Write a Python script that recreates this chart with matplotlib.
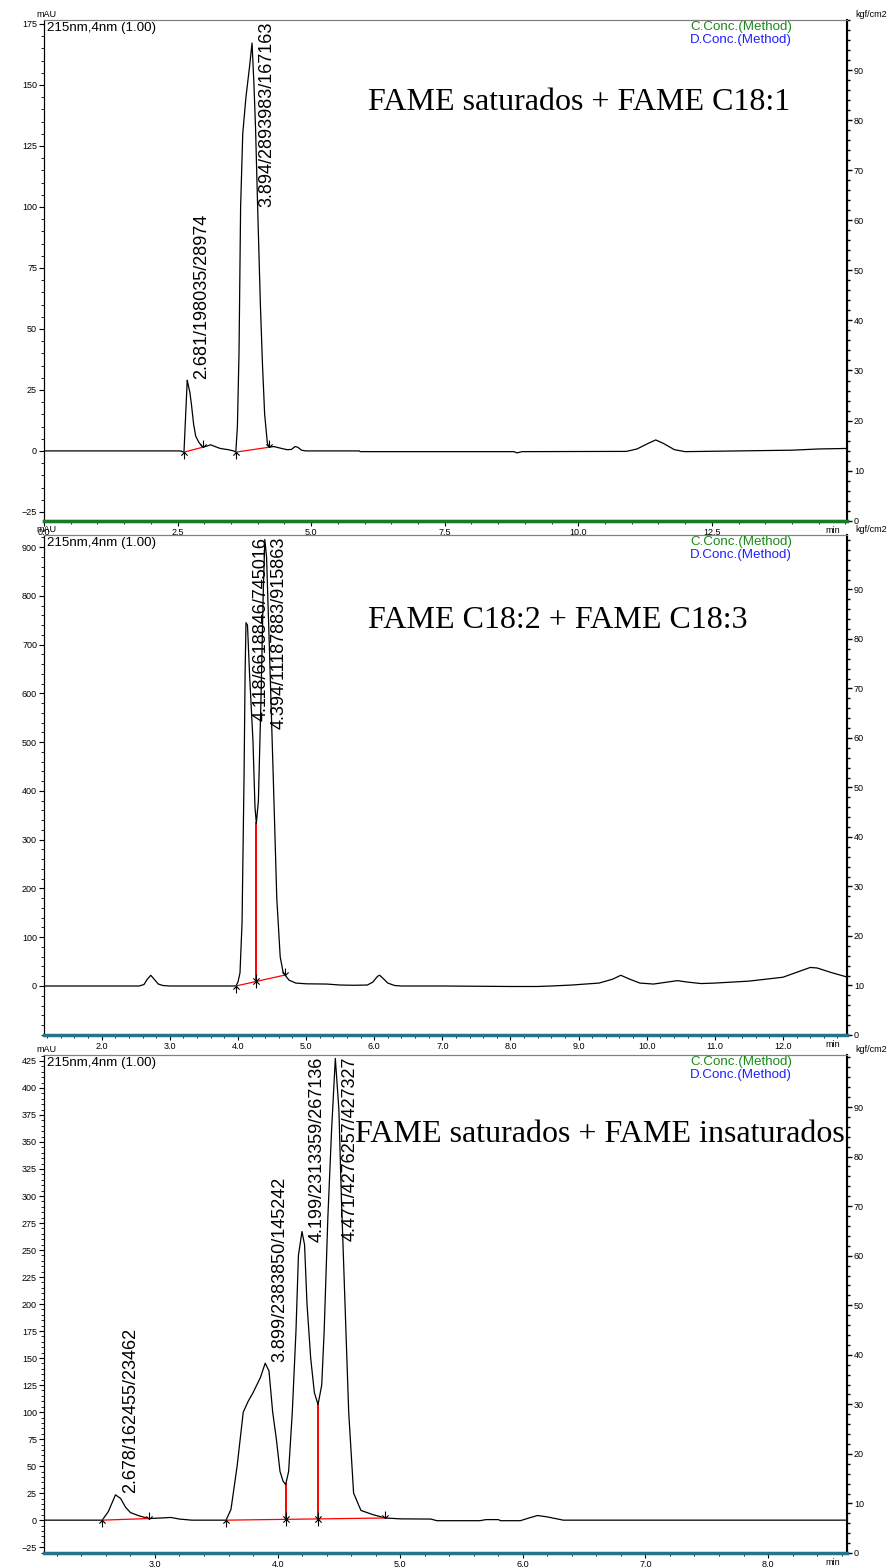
import numpy as np
import matplotlib.pyplot as plt
from matplotlib.path import Path
from matplotlib.ticker import MultipleLocator, FixedLocator, FormatStrFormatter

plt.rcParams['font.family'] = ['Liberation Sans', 'DejaVu Sans']

W, H, DPI = 895, 1568, 100

# ---- cromatograma 1 : FAME saturados + FAME C18:1
t1 = [0.0, 2.55, 2.62, 2.65, 2.70, 2.73, 2.76, 2.80, 2.84, 2.90, 2.97, 3.05, 3.12, 3.20,
      3.30, 3.45, 3.55, 3.59, 3.62, 3.65, 3.68, 3.72, 3.78, 3.85, 3.93, 3.96, 4.00, 4.05,
      4.09, 4.13, 4.18, 4.21, 4.30, 4.45, 4.55, 4.63, 4.70, 4.75, 4.82, 4.90, 5.90, 5.92,
      8.80, 8.85, 8.95, 10.90, 11.10, 11.30, 11.45, 11.60, 11.80, 12.00, 13.00, 14.00,
      14.50, 15.00]
s1 = [0.0, 0.0, -0.5, 14, 27, 24, 19, 11, 6, 3.5, 1.5, 2.0, 2.5, 1.8,
      1.0, 0.5, 0.0, -0.5, 10, 40, 100, 130, 145, 158, 150, 132, 99, 60,
      35, 15, 3.3, 1.5, 1.8, 1.0, 0.5, 0.6, 1.8, 1.5, 0.3, 0.0, 0.0, -0.3,
      -0.3, -0.8, -0.3, -0.2, 0.8, 3.0, 4.5, 3.0, 0.5, -0.3, 0.0, 0.3,
      0.8, 1.0]
pk1_rt = [2.681, 3.894]
pk1_area = [198035, 2893983]
pk1_height = [28974, 167163]
base1_t = [[2.62, 2.97], [3.59, 4.21]]
base1_s = [[-0.5, 1.5], [-0.5, 1.5]]
drop1_t = []
xt1 = [0.0, 2.5, 5.0, 7.5, 10.0, 12.5]
yt1 = [-25, 0, 25, 50, 75, 100, 125, 150, 175]

# ---- cromatograma 2 : FAME C18:2 + FAME C18:3
t2 = [1.15, 2.55, 2.62, 2.67, 2.72, 2.77, 2.83, 2.90, 3.00, 3.90, 3.97, 4.00, 4.03, 4.06,
      4.09, 4.105, 4.14, 4.17, 4.22, 4.25, 4.27, 4.30, 4.34, 4.37, 4.42, 4.46, 4.52, 4.57,
      4.62, 4.66, 4.69, 4.75, 4.85, 5.00, 5.30, 5.50, 5.70, 5.90, 5.98, 6.05, 6.08, 6.12,
      6.20, 6.30, 6.40, 7.00, 8.00, 8.40, 8.60, 8.90, 9.10, 9.30, 9.50, 9.62, 9.75, 9.90,
      10.10, 10.30, 10.45, 10.60, 10.80, 11.00, 11.50, 12.00, 12.20, 12.40, 12.50, 12.70,
      12.95]
s2 = [0, 0, 3, 14, 22, 14, 4, 1, 0, 0, 0, 8, 27, 129,
      437, 642, 740, 640, 504, 367, 334, 380, 600, 800, 880, 700, 420, 180,
      60, 30, 22.5, 12, 6, 4.5, 4.0, 2.0, 1.5, 2.0, 8, 20, 22, 17,
      6, 1, 0, 0, -1, -1, 0, 2, 4, 6, 14, 22, 14, 6,
      4, 8, 11, 8, 5, 6, 10, 18, 28, 38, 37, 28,
      18]
pk2_rt = [4.118, 4.394]
pk2_area = [6618846, 11187883]
pk2_height = [745016, 915863]
base2_t = [[3.97, 4.69]]
base2_s = [[0.0, 22.5]]
drop2_t = [4.27]
xt2 = [2.0, 3.0, 4.0, 5.0, 6.0, 7.0, 8.0, 9.0, 10.0, 11.0, 12.0]
yt2 = [0, 100, 200, 300, 400, 500, 600, 700, 800, 900]

# ---- cromatograma 3 : FAME saturados + FAME insaturados
t3 = [2.09, 2.50, 2.57, 2.62, 2.72, 2.76, 2.80, 2.87, 2.95, 3.05, 3.13, 3.20, 3.30, 3.58,
      3.62, 3.67, 3.72, 3.76, 3.80, 3.86, 3.93, 3.96, 3.99, 4.02, 4.045, 4.066, 4.09, 4.12,
      4.15, 4.17, 4.22, 4.24, 4.27, 4.30, 4.33, 4.36, 4.38, 4.41, 4.44, 4.50, 4.52, 4.55,
      4.58, 4.62, 4.68, 4.78, 4.88, 5.00, 5.25, 5.30, 5.65, 5.70, 5.80, 5.82, 5.98, 6.05,
      6.12, 6.20, 6.33, 8.65]
s3 = [0, 0, 0, 8, 20, 12, 7, 4, 1.5, 2, 2.5, 1, 0, 0,
      10, 50, 100, 110, 118, 132, 138, 100, 75, 45, 36, 33, 45, 100,
      175, 245, 255, 200, 150, 118, 107, 125, 175, 280, 360, 380, 300, 200,
      100, 25, 9, 5, 2, 1.2, 1, -0.5, -0.5, 0.5, 0.5, -0.5, -0.5, 2,
      4.3, 3, 0, 0]
pk3_rt = [2.678, 3.899, 4.199, 4.471]
pk3_area = [162455, 2383850, 2313359, 4276257]
pk3_height = [23462, 145242, 267136, 427327]
base3_t = [[2.57, 2.95], [3.58, 4.88]]
base3_s = [[0.0, 1.5], [0.0, 2.0]]
drop3_t = [4.066, 4.33]
xt3 = [3.0, 4.0, 5.0, 6.0, 7.0, 8.0]
yt3 = list(range(-25, 426, 25))

# right-hand pressure axis
rt_ticks = [0, 10, 20, 30, 40, 50, 60, 70, 80, 90]


def arrow(up, down):
    verts, codes = [], []
    if up:
        verts += [(0, -1), (0, 0), (-0.45, -0.45), (0, 0), (0.45, -0.45)]
        codes += [Path.MOVETO, Path.LINETO, Path.MOVETO, Path.LINETO, Path.LINETO]
    if down:
        verts += [(0, 1), (0, 0), (-0.45, 0.45), (0, 0), (0.45, 0.45)]
        codes += [Path.MOVETO, Path.LINETO, Path.MOVETO, Path.LINETO, Path.LINETO]
    return Path(verts, codes)


UP, DOWN, BOTH = arrow(True, False), arrow(False, True), arrow(True, True)
mk = dict(ls='none', ms=10, mec='black', mfc='none', mew=0.8, clip_on=False, zorder=4)

fig = plt.figure(figsize=(W / DPI, H / DPI), dpi=DPI)
labels = []


def panel(top, bottom, xlim, ylim, rlim, xticks, xmin_, yticks, ymin_, t, s,
          pk_rt, pk_area, pk_height, base_t, base_s, drops, note, note_x, mix):
    ax = fig.add_axes([44 / W, 1 - bottom / H, 803 / W, (bottom - top) / H])
    ax2 = ax.twinx()

    # trace with the peak apexes from the integration table
    tt = np.concatenate([t, pk_rt])
    ss = np.concatenate([s, np.array(pk_height) / 1000.0])
    o = np.argsort(tt)
    tt, ss = tt[o], ss[o]
    ax.plot(tt, ss, color='black', lw=0.9, zorder=3)

    for bt, bs in zip(base_t, base_s):
        ax.plot(bt, bs, color='red', lw=0.9, zorder=3)
        ax.plot(bt[0], bs[0], marker=UP, **mk)
        ax.plot(bt[-1], bs[-1], marker=DOWN, **mk)
        for d in drops:
            if bt[0] < d < bt[-1]:
                b = np.interp(d, bt, bs)
                ax.plot([d, d], [b, np.interp(d, tt, ss)], color='red', lw=1.4, zorder=2)
                ax.plot(d, b, marker=BOTH, **mk)

    for rt, ar, h in zip(pk_rt, pk_area, pk_height):
        a = ax.annotate('%.3f/%d/%d' % (rt, ar, h), xy=(rt, h / 1000.0), xytext=(4.5, 1),
                        textcoords='offset points', rotation=90, ha='left', va='bottom',
                        fontsize=13, zorder=5)
        labels.append((ax, a))

    ax.set_xlim(*xlim)
    ax.set_ylim(*ylim)
    ax2.set_ylim(*rlim)

    # pressure / concentration channels sit on the right axis at zero
    conc_t = [xlim[0], xlim[1]]
    conc_c = [0, 0]
    conc_d = [0, 0]
    if mix:
        ax2.plot(conc_t, conc_c, color='#1a8a1a', lw=2.4, clip_on=False, zorder=6)
        ax2.plot(conc_t, conc_d, color='#3060ff', lw=2.4, alpha=0.5, clip_on=False, zorder=6)
    else:
        ax2.plot(conc_t, conc_d, color='#3060ff', lw=2.4, clip_on=False, zorder=6)
        ax2.plot(conc_t, conc_c, color='#1a7a2a', lw=2.4, clip_on=False, zorder=6)

    ax.xaxis.set_major_locator(FixedLocator(xticks))
    ax.xaxis.set_minor_locator(MultipleLocator(xmin_))
    ax.xaxis.set_major_formatter(FormatStrFormatter('%.1f'))
    ax.yaxis.set_major_locator(FixedLocator(yticks))
    ax.yaxis.set_minor_locator(MultipleLocator(ymin_))
    ax2.yaxis.set_major_locator(FixedLocator(rt_ticks))
    ax2.yaxis.set_minor_locator(MultipleLocator(2))

    for a_ in (ax, ax2):
        a_.tick_params(which='major', length=3.5, width=0.8, labelsize=6.5, pad=1.5)
        a_.tick_params(which='minor', length=2.0, width=0.6)
        a_.spines['top'].set_color('#808080')
    ax2.spines['right'].set_linewidth(1.5)
    ax2.tick_params(axis='y', which='both', width=1.0)

    ax.annotate('215nm,4nm (1.00)', xy=(0, 1), xycoords='axes fraction', xytext=(2, -1.5),
                textcoords='offset points', ha='left', va='top', fontsize=9.6)
    ax.annotate('C.Conc.(Method)', xy=(0.9315, 1), xycoords='axes fraction', xytext=(0, -1),
                textcoords='offset points', ha='right', va='top', fontsize=9.6, color='#1a8a1a')
    ax.annotate('D.Conc.(Method)', xy=(0.9315, 1), xycoords='axes fraction', xytext=(0, -10.3),
                textcoords='offset points', ha='right', va='top', fontsize=9.6, color='#2020ff')
    ax.annotate('mAU', xy=(0, 1), xycoords='axes fraction', xytext=(2, 0.5),
                textcoords='offset points', ha='center', va='bottom', fontsize=6.5)
    ax.annotate('kgf/cm2', xy=(1, 1), xycoords='axes fraction', xytext=(6, 0.5),
                textcoords='offset points', ha='left', va='bottom', fontsize=6.5)
    ax.annotate('min', xy=(1, 0), xycoords='axes fraction', xytext=(-5, -3.5),
                textcoords='offset points', ha='right', va='top', fontsize=6.5)
    ax.text(note_x, note[1], note[0], transform=ax.transAxes, ha='left', va='center',
            fontsize=23, family='Liberation Serif', zorder=5)
    return ax


panel(20, 520.7, (0, 15.03), (-28.6, 176.6), (0, 100), xt1, 0.5, yt1, 5,
      t1, s1, pk1_rt, pk1_area, pk1_height, base1_t, base1_s, drop1_t,
      ('FAME saturados + FAME C18:1', 0.836), 0.4035, False)
panel(535, 1035, (1.153, 12.94), (-100.5, 925), (0, 101), xt2, 0.2, yt2, 20,
      t2, s2, pk2_rt, pk2_area, pk2_height, base2_t, base2_s, drop2_t,
      ('FAME C18:2 + FAME C18:3', 0.83), 0.4035, True)
panel(1055, 1553, (2.095, 8.644), (-30.4, 430.5), (0, 100.5), xt3, 0.2, yt3, 5,
      t3, s3, pk3_rt, pk3_area, pk3_height, base3_t, base3_s, drop3_t,
      ('FAME saturados + FAME insaturados', 0.84), 0.3873, True)

# labels that would run past the top of the frame are pushed down inside it
fig.canvas.draw()
r = fig.canvas.get_renderer()
for ax, a in labels:
    top = ax.get_window_extent(r).y1
    bb = a.get_window_extent(r)
    if bb.y1 > top - 1:
        dx, dy = a.xyann
        a.xyann = (dx, dy - (bb.y1 - top + 2) * 72.0 / DPI)

fig.savefig('out.png', dpi=DPI)
